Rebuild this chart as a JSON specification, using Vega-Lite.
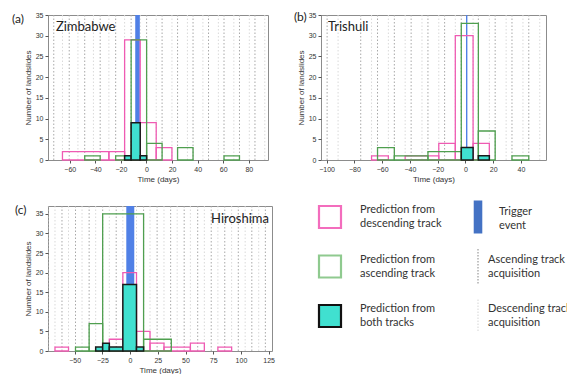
{
  "$schema": "https://vega.github.io/schema/vega-lite/v6.json",
  "padding": {"left": 11, "top": 10, "right": 0, "bottom": 0},
  "datasets": {
    "acq": [
      {"panel":"a","track":"asc","t":-72.5},{"panel":"a","track":"asc","t":-60.4},{"panel":"a","track":"asc","t":-48.3},{"panel":"a","track":"asc","t":-36.2},{"panel":"a","track":"asc","t":-24.1},{"panel":"a","track":"asc","t":-12},{"panel":"a","track":"asc","t":0.1},{"panel":"a","track":"asc","t":12.2},{"panel":"a","track":"asc","t":24.3},{"panel":"a","track":"asc","t":36.4},{"panel":"a","track":"asc","t":48.5},{"panel":"a","track":"asc","t":60.6},{"panel":"a","track":"asc","t":72.7},{"panel":"a","track":"asc","t":84.8},
      {"panel":"a","track":"desc","t":-65.7},{"panel":"a","track":"desc","t":-53.6},{"panel":"a","track":"desc","t":-41.5},{"panel":"a","track":"desc","t":-29.4},{"panel":"a","track":"desc","t":-17.1},{"panel":"a","track":"desc","t":-4.9},{"panel":"a","track":"desc","t":7.6},{"panel":"a","track":"desc","t":19.9},{"panel":"a","track":"desc","t":32},{"panel":"a","track":"desc","t":44.1},{"panel":"a","track":"desc","t":56.2},{"panel":"a","track":"desc","t":68.3},{"panel":"a","track":"desc","t":80.4},{"panel":"a","track":"desc","t":92.5},
      {"panel":"b","track":"asc","t":-99.6},{"panel":"b","track":"asc","t":-75.4},{"panel":"b","track":"asc","t":-63.3},{"panel":"b","track":"asc","t":-51.2},{"panel":"b","track":"asc","t":-39.1},{"panel":"b","track":"asc","t":-27},{"panel":"b","track":"asc","t":-15},{"panel":"b","track":"asc","t":-3},{"panel":"b","track":"asc","t":9.3},{"panel":"b","track":"asc","t":21.4},{"panel":"b","track":"asc","t":33.5},{"panel":"b","track":"asc","t":45.6},
      {"panel":"b","track":"desc","t":-91.7},{"panel":"b","track":"desc","t":-67.6},{"panel":"b","track":"desc","t":-55.5},{"panel":"b","track":"desc","t":-43.4},{"panel":"b","track":"desc","t":-31.3},{"panel":"b","track":"desc","t":-19.2},{"panel":"b","track":"desc","t":-7.3},{"panel":"b","track":"desc","t":5.5},{"panel":"b","track":"desc","t":17.2},{"panel":"b","track":"desc","t":29.3},{"panel":"b","track":"desc","t":41.4},{"panel":"b","track":"desc","t":53.5},
      {"panel":"c","track":"asc","t":-73.6},{"panel":"c","track":"asc","t":-61.4},{"panel":"c","track":"asc","t":-49.2},{"panel":"c","track":"asc","t":-36.9},{"panel":"c","track":"asc","t":-24.7},{"panel":"c","track":"asc","t":-12.5},{"panel":"c","track":"asc","t":-0.3},{"panel":"c","track":"asc","t":12.2},{"panel":"c","track":"asc","t":24.4},{"panel":"c","track":"asc","t":36.6},{"panel":"c","track":"asc","t":48.8},{"panel":"c","track":"asc","t":61},{"panel":"c","track":"asc","t":73.2},{"panel":"c","track":"asc","t":85.4},{"panel":"c","track":"asc","t":97.6},{"panel":"c","track":"asc","t":109.8},{"panel":"c","track":"asc","t":122},
      {"panel":"c","track":"desc","t":-67.7},{"panel":"c","track":"desc","t":-55.5},{"panel":"c","track":"desc","t":-43.3},{"panel":"c","track":"desc","t":-31},{"panel":"c","track":"desc","t":-18.7},{"panel":"c","track":"desc","t":-6.5},{"panel":"c","track":"desc","t":5.8},{"panel":"c","track":"desc","t":18},{"panel":"c","track":"desc","t":30.6},{"panel":"c","track":"desc","t":42.5},{"panel":"c","track":"desc","t":54.4},{"panel":"c","track":"desc","t":67},{"panel":"c","track":"desc","t":79.2},{"panel":"c","track":"desc","t":91.6},{"panel":"c","track":"desc","t":103.8},{"panel":"c","track":"desc","t":116}
    ],
    "trigger": [
      {"panel":"a","t0":-8.8,"t1":-5.2},
      {"panel":"b","t0":0.4,"t1":1.4},
      {"panel":"c","t0":-3.4,"t1":3.8}
    ],
    "bars": [
      {"panel":"a","track":"desc","x0":-65.7,"x1":-29.4,"n":2},
      {"panel":"a","track":"desc","x0":-29.4,"x1":-17.1,"n":2},
      {"panel":"a","track":"desc","x0":-17.1,"x1":-4.9,"n":29},
      {"panel":"a","track":"desc","x0":-4.9,"x1":7.6,"n":9},
      {"panel":"a","track":"desc","x0":7.6,"x1":19.9,"n":3},
      {"panel":"a","track":"asc","x0":-48.3,"x1":-36.2,"n":1},
      {"panel":"a","track":"asc","x0":-24.1,"x1":-12,"n":1},
      {"panel":"a","track":"asc","x0":-12,"x1":0.1,"n":29},
      {"panel":"a","track":"asc","x0":0.1,"x1":12.2,"n":4},
      {"panel":"a","track":"asc","x0":24.3,"x1":36.4,"n":3},
      {"panel":"a","track":"asc","x0":60.6,"x1":72.7,"n":1},
      {"panel":"a","track":"both","x0":-17.1,"x1":-12,"n":1},
      {"panel":"a","track":"both","x0":-12,"x1":-4.9,"n":9},
      {"panel":"a","track":"both","x0":-4.9,"x1":0.1,"n":1},
      {"panel":"b","track":"desc","x0":-67.6,"x1":-55.5,"n":1},
      {"panel":"b","track":"desc","x0":-43.4,"x1":-19.2,"n":1},
      {"panel":"b","track":"desc","x0":-19.2,"x1":-7.3,"n":4},
      {"panel":"b","track":"desc","x0":-7.3,"x1":5.5,"n":30},
      {"panel":"b","track":"desc","x0":5.5,"x1":17.2,"n":4},
      {"panel":"b","track":"asc","x0":-63.3,"x1":-51.2,"n":3},
      {"panel":"b","track":"asc","x0":-51.2,"x1":-27,"n":1},
      {"panel":"b","track":"asc","x0":-27,"x1":-3,"n":2},
      {"panel":"b","track":"asc","x0":-3,"x1":9.3,"n":33},
      {"panel":"b","track":"asc","x0":9.3,"x1":21.4,"n":7},
      {"panel":"b","track":"asc","x0":33.5,"x1":45.6,"n":1},
      {"panel":"b","track":"both","x0":-3,"x1":5.5,"n":3},
      {"panel":"b","track":"both","x0":9.3,"x1":17.2,"n":1},
      {"panel":"c","track":"desc","x0":-67.7,"x1":-55.5,"n":1},
      {"panel":"c","track":"desc","x0":-18.7,"x1":-6.5,"n":3},
      {"panel":"c","track":"desc","x0":-6.5,"x1":5.8,"n":20},
      {"panel":"c","track":"desc","x0":5.8,"x1":18,"n":5},
      {"panel":"c","track":"desc","x0":18,"x1":30.6,"n":2},
      {"panel":"c","track":"desc","x0":30.6,"x1":54.4,"n":1},
      {"panel":"c","track":"desc","x0":54.4,"x1":67,"n":2},
      {"panel":"c","track":"desc","x0":79.2,"x1":91.6,"n":1},
      {"panel":"c","track":"asc","x0":-49.2,"x1":-36.9,"n":1},
      {"panel":"c","track":"asc","x0":-36.9,"x1":-24.7,"n":7},
      {"panel":"c","track":"asc","x0":-24.7,"x1":12.2,"n":35},
      {"panel":"c","track":"asc","x0":12.2,"x1":37.2,"n":3},
      {"panel":"c","track":"both","x0":-31,"x1":-24.7,"n":1},
      {"panel":"c","track":"both","x0":-24.7,"x1":-18.7,"n":2},
      {"panel":"c","track":"both","x0":-18.7,"x1":-6.5,"n":1},
      {"panel":"c","track":"both","x0":-6.5,"x1":5.8,"n":17},
      {"panel":"c","track":"both","x0":5.8,"x1":12.2,"n":1}
    ],
    "labels": [
      {"panel":"a","tag":"(a)","name":"Zimbabwe"},
      {"panel":"b","tag":"(b)","name":"Trishuli"},
      {"panel":"c","tag":"(c)","name":"Hiroshima"}
    ],
    "legendItems": [
      {"key":"desc","col":"left","row":"1","label":"Prediction from\ndescending track"},
      {"key":"asc","col":"left","row":"2","label":"Prediction from\nascending track"},
      {"key":"both","col":"left","row":"3","label":"Prediction from\nboth tracks"},
      {"key":"trigger","col":"right","row":"1","label":"Trigger\nevent"},
      {"key":"ascacq","col":"right","row":"2","label":"Ascending track\nacquisition"},
      {"key":"descacq","col":"right","row":"3","label":"Descending track\nacquisition"}
    ]
  },
  "columns": 2,
  "bounds": "flush",
  "align": "each",
  "spacing": {"row": 46, "column": 49},
  "concat": [
    {
      "width": 220, "height": 145,
      "layer": [
        {"data":{"name":"acq"},"transform":[{"filter":"datum.panel==='a'"}],
         "mark":{"type":"rule","strokeWidth":1,"strokeDash":[1.5,2]},
         "encoding":{
           "x":{"field":"t","type":"quantitative","title":"Time (days)","scale":{"domain":[-77,95],"nice":false,"zero":false},"axis":{"values":[-60,-40,-20,0,20,40,60,80],"tickCount":30}},
           "color":{"field":"track","type":"nominal","scale":{"domain":["asc","desc"],"range":["#a8a8a8","#d9d9d9"]},"legend":null}}},
        {"data":{"name":"trigger"},"transform":[{"filter":"datum.panel==='a'"}],
         "mark":{"type":"rect","color":"#5080e6"},
         "encoding":{"x":{"field":"t0","type":"quantitative","title":"Time (days)","scale":{"domain":[-77,95],"nice":false,"zero":false}},"x2":{"field":"t1"}}},
        {"data":{"name":"bars"},"transform":[{"filter":"datum.panel==='a' && datum.track==='desc'"}],
         "mark":{"type":"rect","filled":false,"color":"#ef5bb3","strokeWidth":1.3},
         "encoding":{"x":{"field":"x0","type":"quantitative","title":"Time (days)","scale":{"domain":[-77,95],"nice":false,"zero":false}},"x2":{"field":"x1"},
           "y":{"field":"n","type":"quantitative","title":"Number of landslides","scale":{"domain":[0,35],"nice":false},"axis":{"values":[0,5,10,15,20,25,30,35],"tickCount":30}},"y2":{"datum":0}}},
        {"data":{"name":"bars"},"transform":[{"filter":"datum.panel==='a' && datum.track==='asc'"}],
         "mark":{"type":"rect","filled":false,"color":"#4f9f4f","strokeWidth":1.3},
         "encoding":{"x":{"field":"x0","type":"quantitative","title":"Time (days)","scale":{"domain":[-77,95],"nice":false,"zero":false}},"x2":{"field":"x1"},
           "y":{"field":"n","type":"quantitative","title":"Number of landslides","scale":{"domain":[0,35],"nice":false}},"y2":{"datum":0}}},
        {"data":{"name":"bars"},"transform":[{"filter":"datum.panel==='a' && datum.track==='both'"}],
         "mark":{"type":"rect","fill":"#40e0d0","stroke":"#1a1a1a","strokeWidth":1.5},
         "encoding":{"x":{"field":"x0","type":"quantitative","title":"Time (days)","scale":{"domain":[-77,95],"nice":false,"zero":false}},"x2":{"field":"x1"},
           "y":{"field":"n","type":"quantitative","title":"Number of landslides","scale":{"domain":[0,35],"nice":false}},"y2":{"datum":0}}},
        {"data":{"name":"labels"},"transform":[{"filter":"datum.panel==='a'"}],
         "mark":{"type":"text","align":"left","baseline":"middle","font":"Lato","fontSize":12,"color":"#222"},
         "encoding":{"x":{"datum":-105.1},"y":{"datum":34},"text":{"field":"tag"}}},
        {"data":{"name":"labels"},"transform":[{"filter":"datum.panel==='a'"}],
         "mark":{"type":"text","align":"left","baseline":"middle","font":"Lato","fontSize":13,"color":"#222"},
         "encoding":{"x":{"datum":-70.8},"y":{"datum":32.1},"text":{"field":"name"}}}
      ]
    },
    {
      "width": 225, "height": 145,
      "layer": [
        {"data":{"name":"acq"},"transform":[{"filter":"datum.panel==='b'"}],
         "mark":{"type":"rule","strokeWidth":1,"strokeDash":[1.5,2]},
         "encoding":{
           "x":{"field":"t","type":"quantitative","title":"Time (days)","scale":{"domain":[-104,58],"nice":false,"zero":false},"axis":{"values":[-100,-80,-60,-40,-20,0,20,40],"tickCount":30}},
           "color":{"field":"track","type":"nominal","scale":{"domain":["asc","desc"],"range":["#a8a8a8","#d9d9d9"]},"legend":null}}},
        {"data":{"name":"trigger"},"transform":[{"filter":"datum.panel==='b'"}],
         "mark":{"type":"rect","color":"#5080e6"},
         "encoding":{"x":{"field":"t0","type":"quantitative","title":"Time (days)","scale":{"domain":[-104,58],"nice":false,"zero":false}},"x2":{"field":"t1"}}},
        {"data":{"name":"bars"},"transform":[{"filter":"datum.panel==='b' && datum.track==='desc'"}],
         "mark":{"type":"rect","filled":false,"color":"#ef5bb3","strokeWidth":1.3},
         "encoding":{"x":{"field":"x0","type":"quantitative","title":"Time (days)","scale":{"domain":[-104,58],"nice":false,"zero":false}},"x2":{"field":"x1"},
           "y":{"field":"n","type":"quantitative","title":"Number of landslides","scale":{"domain":[0,35],"nice":false},"axis":{"values":[0,5,10,15,20,25,30,35],"tickCount":30}},"y2":{"datum":0}}},
        {"data":{"name":"bars"},"transform":[{"filter":"datum.panel==='b' && datum.track==='asc'"}],
         "mark":{"type":"rect","filled":false,"color":"#4f9f4f","strokeWidth":1.3},
         "encoding":{"x":{"field":"x0","type":"quantitative","title":"Time (days)","scale":{"domain":[-104,58],"nice":false,"zero":false}},"x2":{"field":"x1"},
           "y":{"field":"n","type":"quantitative","title":"Number of landslides","scale":{"domain":[0,35],"nice":false}},"y2":{"datum":0}}},
        {"data":{"name":"bars"},"transform":[{"filter":"datum.panel==='b' && datum.track==='both'"}],
         "mark":{"type":"rect","fill":"#40e0d0","stroke":"#1a1a1a","strokeWidth":1.5},
         "encoding":{"x":{"field":"x0","type":"quantitative","title":"Time (days)","scale":{"domain":[-104,58],"nice":false,"zero":false}},"x2":{"field":"x1"},
           "y":{"field":"n","type":"quantitative","title":"Number of landslides","scale":{"domain":[0,35],"nice":false}},"y2":{"datum":0}}},
        {"data":{"name":"labels"},"transform":[{"filter":"datum.panel==='b'"}],
         "mark":{"type":"text","align":"left","baseline":"middle","font":"Lato","fontSize":12,"color":"#222"},
         "encoding":{"x":{"datum":-123.5},"y":{"datum":34.5},"text":{"field":"tag"}}},
        {"data":{"name":"labels"},"transform":[{"filter":"datum.panel==='b'"}],
         "mark":{"type":"text","align":"left","baseline":"middle","font":"Lato","fontSize":13,"color":"#222"},
         "encoding":{"x":{"datum":-99},"y":{"datum":32.1},"text":{"field":"name"}}}
      ]
    },
    {
      "width": 224, "height": 145,
      "layer": [
        {"data":{"name":"acq"},"transform":[{"filter":"datum.panel==='c'"}],
         "mark":{"type":"rule","strokeWidth":1,"strokeDash":[1.5,2]},
         "encoding":{
           "x":{"field":"t","type":"quantitative","title":"Time (days)","scale":{"domain":[-74,128],"nice":false,"zero":false},"axis":{"values":[-50,-25,0,25,50,75,100,125],"tickCount":30}},
           "color":{"field":"track","type":"nominal","scale":{"domain":["asc","desc"],"range":["#a8a8a8","#d9d9d9"]},"legend":null}}},
        {"data":{"name":"trigger"},"transform":[{"filter":"datum.panel==='c'"}],
         "mark":{"type":"rect","color":"#5080e6"},
         "encoding":{"x":{"field":"t0","type":"quantitative","title":"Time (days)","scale":{"domain":[-74,128],"nice":false,"zero":false}},"x2":{"field":"t1"}}},
        {"data":{"name":"bars"},"transform":[{"filter":"datum.panel==='c' && datum.track==='desc'"}],
         "mark":{"type":"rect","filled":false,"color":"#ef5bb3","strokeWidth":1.3},
         "encoding":{"x":{"field":"x0","type":"quantitative","title":"Time (days)","scale":{"domain":[-74,128],"nice":false,"zero":false}},"x2":{"field":"x1"},
           "y":{"field":"n","type":"quantitative","title":"Number of landslides","scale":{"domain":[0,37],"nice":false},"axis":{"values":[0,5,10,15,20,25,30,35],"tickCount":30}},"y2":{"datum":0}}},
        {"data":{"name":"bars"},"transform":[{"filter":"datum.panel==='c' && datum.track==='asc'"}],
         "mark":{"type":"rect","filled":false,"color":"#4f9f4f","strokeWidth":1.3},
         "encoding":{"x":{"field":"x0","type":"quantitative","title":"Time (days)","scale":{"domain":[-74,128],"nice":false,"zero":false}},"x2":{"field":"x1"},
           "y":{"field":"n","type":"quantitative","title":"Number of landslides","scale":{"domain":[0,37],"nice":false}},"y2":{"datum":0}}},
        {"data":{"name":"bars"},"transform":[{"filter":"datum.panel==='c' && datum.track==='both'"}],
         "mark":{"type":"rect","fill":"#40e0d0","stroke":"#1a1a1a","strokeWidth":1.5},
         "encoding":{"x":{"field":"x0","type":"quantitative","title":"Time (days)","scale":{"domain":[-74,128],"nice":false,"zero":false}},"x2":{"field":"x1"},
           "y":{"field":"n","type":"quantitative","title":"Number of landslides","scale":{"domain":[0,37],"nice":false}},"y2":{"datum":0}}},
        {"data":{"name":"labels"},"transform":[{"filter":"datum.panel==='c'"}],
         "mark":{"type":"text","align":"left","baseline":"middle","font":"Lato","fontSize":12,"color":"#222"},
         "encoding":{"x":{"datum":-103.8},"y":{"datum":35.9},"text":{"field":"tag"}}},
        {"data":{"name":"labels"},"transform":[{"filter":"datum.panel==='c'"}],
         "mark":{"type":"text","align":"right","baseline":"middle","font":"Lato","fontSize":13,"color":"#222"},
         "encoding":{"x":{"datum":125.3},"y":{"datum":33.7},"text":{"field":"name"}}}
      ]
    },
    {
      "width": 166, "height": 121,
      "view": {"stroke": null},
      "layer": [
        {"data":{"name":"legendItems"},"transform":[{"filter":"datum.col==='left'"}],
         "mark":{"type":"point","shape":"square","size":484,"filled":true,"strokeWidth":2.2,"opacity":1},
         "encoding":{
           "x":{"field":"col","type":"nominal","scale":{"type":"point","domain":["left","right"],"padding":0.0608},"axis":null},
           "y":{"field":"row","type":"ordinal","scale":{"type":"point","domain":["1","2","3"],"padding":0.222},"axis":null},
           "fill":{"field":"key","type":"nominal","scale":{"domain":["desc","asc","both"],"range":["#ffffff","#ffffff","#40e0d0"]},"legend":null},
           "stroke":{"field":"key","type":"nominal","scale":{"domain":["desc","asc","both"],"range":["#f36dbd","#8fca8f","#111111"]},"legend":null}}},
        {"data":{"name":"legendItems"},"transform":[{"filter":"datum.key==='trigger'"}],
         "mark":{"type":"point","shape":"M-0.26,-1H0.26V1H-0.26Z","size":1089,"filled":true,"color":"#4472c4","strokeWidth":0,"opacity":1},
         "encoding":{
           "x":{"field":"col","type":"nominal","scale":{"type":"point","domain":["left","right"],"padding":0.0608},"axis":null},
           "y":{"field":"row","type":"ordinal","scale":{"type":"point","domain":["1","2","3"],"padding":0.222},"axis":null}}},
        {"data":{"name":"legendItems"},"transform":[{"filter":"datum.key==='ascacq'"}],
         "mark":{"type":"point","shape":"M0,-1V1","size":1225,"filled":false,"stroke":"#9a9a9a","strokeDash":[1.5,1.5],"strokeWidth":1.2,"opacity":1},
         "encoding":{
           "x":{"field":"col","type":"nominal","scale":{"type":"point","domain":["left","right"],"padding":0.0608},"axis":null},
           "y":{"field":"row","type":"ordinal","scale":{"type":"point","domain":["1","2","3"],"padding":0.222},"axis":null}}},
        {"data":{"name":"legendItems"},"transform":[{"filter":"datum.key==='descacq'"}],
         "mark":{"type":"point","shape":"M0,-1V1","size":1089,"filled":false,"stroke":"#dcdcdc","strokeDash":[1.5,1.5],"strokeWidth":1.2,"opacity":1},
         "encoding":{
           "x":{"field":"col","type":"nominal","scale":{"type":"point","domain":["left","right"],"padding":0.0608},"axis":null},
           "y":{"field":"row","type":"ordinal","scale":{"type":"point","domain":["1","2","3"],"padding":0.222},"axis":null}}},
        {"data":{"name":"legendItems"},"transform":[{"filter":"datum.col==='left'"}],
         "mark":{"type":"text","align":"left","baseline":"middle","dx":30,"dy":-7,"font":"Lato","fontSize":11,"lineHeight":14,"lineBreak":"\n","color":"#333"},
         "encoding":{
           "x":{"field":"col","type":"nominal","scale":{"type":"point","domain":["left","right"],"padding":0.0608},"axis":null},
           "y":{"field":"row","type":"ordinal","scale":{"type":"point","domain":["1","2","3"],"padding":0.222},"axis":null},
           "text":{"field":"label"}}},
        {"data":{"name":"legendItems"},"transform":[{"filter":"datum.key==='trigger'"}],
         "mark":{"type":"text","align":"left","baseline":"middle","dx":21,"dy":-5,"font":"Lato","fontSize":11,"lineHeight":14,"lineBreak":"\n","color":"#333"},
         "encoding":{
           "x":{"field":"col","type":"nominal","scale":{"type":"point","domain":["left","right"],"padding":0.0608},"axis":null},
           "y":{"field":"row","type":"ordinal","scale":{"type":"point","domain":["1","2","3"],"padding":0.222},"axis":null},
           "text":{"field":"label"}}},
        {"data":{"name":"legendItems"},"transform":[{"filter":"datum.key==='ascacq' || datum.key==='descacq'"}],
         "mark":{"type":"text","align":"left","baseline":"middle","dx":10,"dy":-7,"font":"Lato","fontSize":11,"lineHeight":14,"lineBreak":"\n","color":"#333"},
         "encoding":{
           "x":{"field":"col","type":"nominal","scale":{"type":"point","domain":["left","right"],"padding":0.0608},"axis":null},
           "y":{"field":"row","type":"ordinal","scale":{"type":"point","domain":["1","2","3"],"padding":0.222},"axis":null},
           "text":{"field":"label"}}}
      ]
    }
  ],
  "config": {
    "font": "Liberation Sans",
    "view": {"stroke": "#8c8c8c", "strokeWidth": 1},
    "axis": {"grid": false, "domain": false, "ticks": true, "tickColor": "#555", "tickSize": 3, "labelFont": "Liberation Sans", "labelFontSize": 7, "labelColor": "#333", "titleFont": "Liberation Sans", "titleFontSize": 8, "titleFontWeight": "normal", "titleColor": "#333", "labelPadding": 2, "titlePadding": 3, "labelOverlap": false}
  }
}
